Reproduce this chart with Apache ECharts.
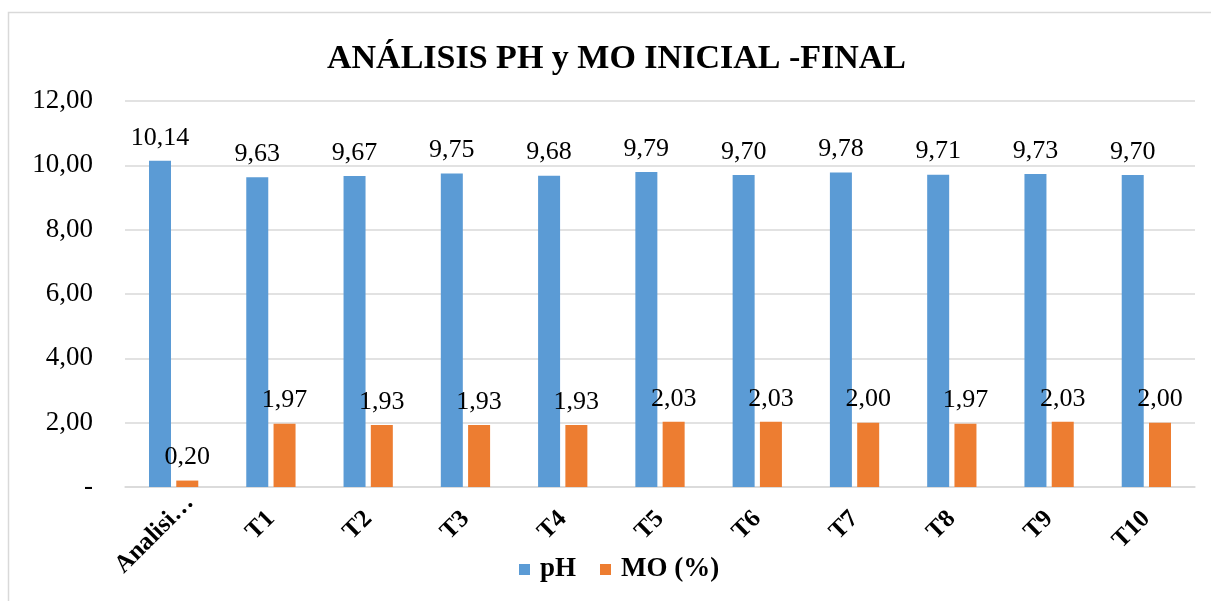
<!DOCTYPE html>
<html><head><meta charset="utf-8">
<script src="https://cdn.jsdelivr.net/npm/echarts@6/dist/echarts.min.js"></script>
<style>html,body{margin:0;padding:0;background:#fff}#c{width:1211px;height:601px}</style>
</head><body><div id="c"></div>
<script>
const categories = ["Analisi…","T1","T2","T3","T4","T5","T6","T7","T8","T9","T10"];
const phValues = [10.14,9.63,9.67,9.75,9.68,9.79,9.70,9.78,9.71,9.73,9.70];
const moValues = [0.20,1.97,1.93,1.93,1.93,2.03,2.03,2.00,1.97,2.03,2.00];
const seriesNames = ["pH","MO (%)"];
const titleText = "ANÁLISIS PH y MO INICIAL -FINAL";

const fmt = v => v === 0 ? "-" : v.toFixed(2).replace(".", ",");
const F = "'Liberation Serif', 'Times New Roman', serif";
const chart = echarts.init(document.getElementById('c'));
const lbl = {show:true, position:'top', distance:10, color:'#000', fontFamily:F, fontSize:26, formatter:p=>fmt(p.value)};
const catItems = categories.map((c, i) => i === 0
  ? {value:c, textStyle:{align:'center', verticalAlign:'middle', padding:[17,54,0,0]}}
  : {value:c});
chart.setOption({
  animation:false,
  graphic:[{type:'rect', shape:{x:8.5,y:12.5,width:1220,height:620}, style:{fill:'none', stroke:'#d9d9d9', lineWidth:1.5}, silent:true}],
  title:{text:titleText, left:322, top:37, textStyle:{fontFamily:F, fontSize:34, fontWeight:'bold', color:'#000'}},
  legend:{bottom:13, left:514, itemWidth:11, itemHeight:11, itemGap:24, icon:'rect',
    textStyle:{fontFamily:F, fontSize:27, fontWeight:'bold', color:'#000', padding:[0,0,0,5]}},
  grid:{left:125, right:16, top:101, bottom:114, containLabel:false},
  xAxis:{type:'category', data:catItems,
    axisLine:{lineStyle:{color:'#d9d9d9', width:1.5}}, axisTick:{show:false},
    axisLabel:{rotate:45, interval:0, margin:28, fontFamily:F, fontSize:25, fontWeight:'bold', color:'#000'}},
  yAxis:{type:'value', min:0, max:12, interval:2,
    axisLine:{show:false}, axisTick:{show:false},
    splitLine:{lineStyle:{color:'#d9d9d9', width:1.5}},
    axisLabel:{margin:32, fontFamily:F, fontSize:27, color:'#000', formatter:fmt}},
  series:[
    {name:seriesNames[0], type:'bar', data:phValues, barWidth:22, barGap:'24%', itemStyle:{color:'#5b9bd5'}, label:lbl},
    {name:seriesNames[1], type:'bar', data:moValues, barWidth:22, itemStyle:{color:'#ed7d31'}, label:lbl}
  ]
});
</script></body></html>
